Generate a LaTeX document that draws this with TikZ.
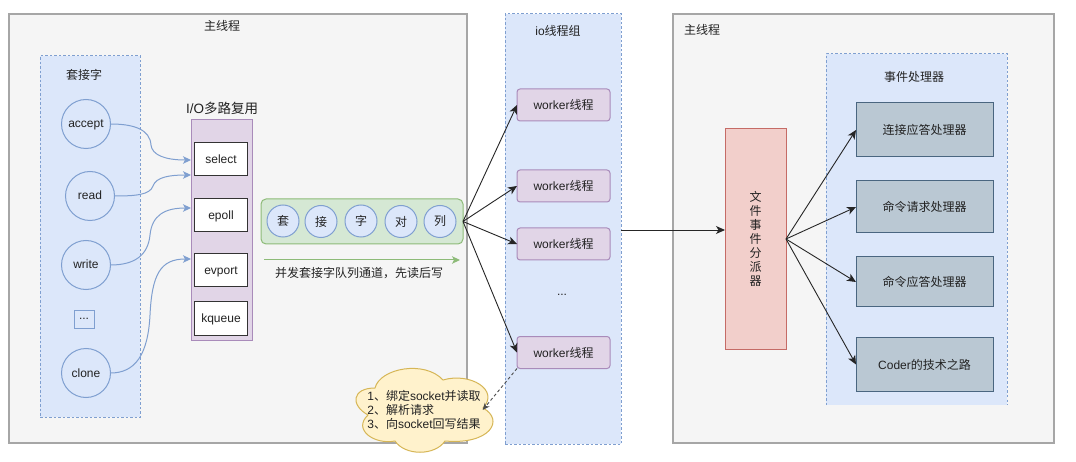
\documentclass[tikz,border=0pt]{standalone}
\usepackage{fontspec}
\setmainfont{Liberation Sans}
\newfontfamily\cjk{Noto Sans CJK SC}
\usetikzlibrary{arrows.meta,calc}
\newcommand\zh[1]{{\cjk #1}}
\definecolor{blueF}{HTML}{DCE7FA}
\definecolor{blueS}{HTML}{7F9FD0}
\definecolor{purpleF}{HTML}{E1D5E7}
\definecolor{purpleS}{HTML}{A98BBA}
\definecolor{greenF}{HTML}{D5E8D4}
\definecolor{greenS}{HTML}{8DBB78}
\definecolor{redF}{HTML}{F2CFCB}
\definecolor{redS}{HTML}{C56B66}
\definecolor{grayF}{HTML}{BAC8D3}
\definecolor{grayS}{HTML}{4A6680}
\definecolor{cloudF}{HTML}{FFF2CC}
\definecolor{cloudS}{HTML}{D6B656}
\definecolor{mainF}{HTML}{F5F5F5}
\definecolor{mainS}{HTML}{A6A6A6}
\definecolor{inkc}{HTML}{222222}
\tikzset{
  x=1pt,y=-1pt,
  every node/.style={font=\fontsize{12}{14}\selectfont,text=inkc,inner sep=0pt,outer sep=0pt},
  mainbox/.style={draw=mainS,fill=mainF,line width=1.2pt,minimum height=429pt},
  groupbox/.style={draw=blueS,fill=blueF,line width=1pt,dash pattern=on 2.5pt off 2pt},
  latinlabel/.style={text height=9pt,text depth=1pt},
  sock/.style={circle,draw=blueS,fill=blueF,line width=1pt,minimum size=49pt,latinlabel},
  qitem/.style={circle,draw=blueS,fill=blueF,line width=1pt,minimum size=32pt},
  muxbox/.style={draw=black!80,fill=white,line width=1pt,minimum width=53pt,minimum height=33pt,latinlabel},
  workerbox/.style={draw=purpleS,fill=purpleF,line width=1pt,rounded corners=3pt,minimum width=93pt,minimum height=32pt},
  handler/.style={draw=grayS,fill=grayF,line width=1pt,minimum width=137pt},
  bluearrow/.style={draw=blueS,line width=1pt,-{Stealth[length=8pt,width=7.5pt,inset=2pt]}},
  blackarrow/.style={draw=black!85,line width=0.9pt,-{Stealth[length=9pt,width=8pt,inset=2.5pt]}},
}
\begin{document}
\begin{tikzpicture}
\useasboundingbox[fill=white] (0,0) rectangle (1076,462);
% main thread boxes
\node[mainbox,minimum width=458pt] (mainL) at (238,228.5) {};
\node (mainLt) at (222,26) {\zh{主线程}};
\node[mainbox,minimum width=381pt] (mainR) at (863.5,228.5) {};
\node (mainRt) at (702,30) {\zh{主线程}};
% sockets
\node[groupbox,minimum width=100pt,minimum height=361pt] (sockets) at (90,236.5) {};
\node (socketst) at (84,75) {\zh{套接字}};
\node[sock] (accept) at (86,124) {accept};
\node[sock] (read) at (90,196) {read};
\node[sock] (write) at (86,265) {write};
\node[draw=blueS,fill=blueF,line width=1pt,minimum width=20pt,minimum height=18pt] (more) at (84,319) {...};
\node[sock] (clone) at (86,373) {clone};
% multiplexer
\node[draw=purpleS,fill=purpleF,line width=1pt,minimum width=61pt,minimum height=220pt] (mux) at (221.5,230) {};
\node[font=\fontsize{13.5}{15}\selectfont] (muxt) at (222,108) {I/O\zh{多路复用}};
\node[muxbox] (select) at (221,159.5) {select};
\node[muxbox] (epoll) at (221,215.5) {epoll};
\node[muxbox] (evport) at (221,270.5) {evport};
\node[muxbox] (kqueue) at (221,318.5) {kqueue};
% queue
\node[draw=greenS,fill=greenF,line width=1pt,rounded corners=5pt,minimum width=202pt,minimum height=45pt] (queue) at (362,221.5) {};
\node[qitem] (q1) at (283,221) {\zh{套}};
\node[qitem] (q2) at (321,221.5) {\zh{接}};
\node[qitem] (q3) at (361,221) {\zh{字}};
\node[qitem] (q4) at (401,221.5) {\zh{对}};
\node[qitem] (q5) at (440,221.5) {\zh{列}};
\coordinate (flowA) at (264,260);
\coordinate (flowB) at (460,260);
\draw[draw=greenS,line width=1pt,-{Stealth[length=8pt,width=7.5pt,inset=2pt]}] (flowA) -- (flowB);
\node (flowt) at (359,273) {\zh{并发套接字队列通道，先读后写}};
% io group
\node[groupbox,minimum width=116pt,minimum height=430pt] (io) at (563,229) {};
\node (iot) at (558,31) {io\zh{线程组}};
\node[workerbox] (w1) at (563.5,105) {worker\zh{线程}};
\node[workerbox] (w2) at (563.5,186) {worker\zh{线程}};
\node[workerbox] (w3) at (563.5,244) {worker\zh{线程}};
\node[workerbox] (w4) at (563.5,352.5) {worker\zh{线程}};
\node (wmore) at (562,295) {...};
% handlers group
\fill[blueF] (826,54) rectangle (1007,405);
\draw[draw=blueS,line width=1pt,dash pattern=on 2.5pt off 2pt] (826,405) -- (826,54) -- (1007,54) -- (1007,405);
\node (handlerst) at (914,77) {\zh{事件处理器}};
\node[handler,minimum height=54pt] (h1) at (924.5,130) {\zh{连接应答处理器}};
\node[handler,minimum height=52pt] (h2) at (924.5,207) {\zh{命令请求处理器}};
\node[handler,minimum height=50pt] (h3) at (924.5,282) {\zh{命令应答处理器}};
\node[handler,minimum height=54pt] (h4) at (924.5,364.5) {Coder\zh{的技术之路}};
% dispatcher
\node[draw=redS,fill=redF,line width=1pt,minimum width=61pt,minimum height=220pt,align=center] (disp) at (755.5,239) {\zh{文}\\\zh{件}\\\zh{事}\\\zh{件}\\\zh{分}\\\zh{派}\\\zh{器}};
% cloud
\path[draw=cloudS,fill=cloudF,line width=1pt]
  (368,415) .. controls (350,405) and (352,388) .. (375,388)
  .. controls (380,368) and (425,360) .. (443,380)
  .. controls (470,372) and (500,390) .. (483,408)
  .. controls (505,420) and (490,445) .. (445,441)
  .. controls (435,456) and (405,456) .. (395,441)
  .. controls (375,445) and (352,430) .. (368,415) -- cycle;
\node[align=left] (cloud) at (424,410) {1\zh{、绑定}socket\zh{并读取}\\2\zh{、解析请求}\\3\zh{、向}socket\zh{回写结果}};
% blue connectors
\draw[bluearrow] (accept.east) .. controls (135,124) and (150,130) .. (151,145) .. controls (152,155) and (165,160) .. ([yshift=70pt]mux.west);
\draw[bluearrow] (read.east) .. controls (135,196) and (150,195) .. (153,186) .. controls (156,177) and (170,175) .. ([yshift=55pt]mux.west);
\draw[bluearrow] (write.east) .. controls (135,265) and (148,255) .. (150,235) .. controls (152,215) and (165,208) .. ([yshift=22pt]mux.west);
\draw[bluearrow] (clone.east) .. controls (135,373) and (148,355) .. (150,315) .. controls (152,275) and (160,259) .. ([yshift=-29pt]mux.west);
% black connectors
\draw[blackarrow] (queue.east) -- (w1.west);
\draw[blackarrow] (queue.east) -- (w2.west);
\draw[blackarrow] (queue.east) -- (w3.west);
\draw[blackarrow] (queue.east) -- (w4.west);
\draw[blackarrow] ([yshift=9pt]disp.west -| io.east) -- ([yshift=9pt]disp.west);
\draw[blackarrow] (disp.east) -- (h1.west);
\draw[blackarrow] (disp.east) -- (h2.west);
\draw[blackarrow] (disp.east) -- (h3.west);
\draw[blackarrow] (disp.east) -- (h4.west);
\draw[draw=black!70,line width=0.9pt,dash pattern=on 3pt off 2.5pt,-{Stealth[length=7pt,width=6pt,inset=2pt]}] (w4.south west) -- ([xshift=2pt]cloud.east);
\end{tikzpicture}
\end{document}
